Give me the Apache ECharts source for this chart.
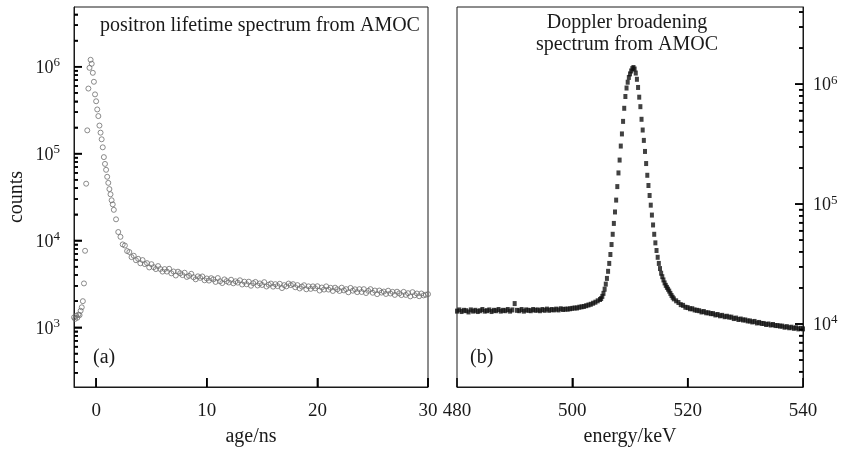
<!DOCTYPE html>
<html>
<head>
<meta charset="utf-8">
<script src="https://cdn.jsdelivr.net/npm/echarts@6/dist/echarts.min.js"></script>
<style>
  html, body { margin: 0; padding: 0; background: #fff; }
  #main { width: 841px; height: 452px; }
</style>
</head>
<body>
<div id="main"></div>
<script>
'use strict';

// (a) positron lifetime spectrum: [age/ns, counts]
var lifetimePeak = [
    [-2.0,1300],[-1.9,1250],[-1.8,1360],[-1.7,1290],[-1.6,1400],[-1.5,1380],[-1.4,1550],[-1.3,1700],
    [-1.2,2000],[-1.1,3200],[-1.0,7600],[-0.9,45000],[-0.8,185000],[-0.7,560000],[-0.6,970000],
    [-0.5,1200000],[-0.4,1080000],[-0.3,850000],[-0.2,670000],[-0.1,480000],[0.0,400000],[0.1,322000],
    [0.2,270000],[0.3,210000],[0.4,174000],[0.5,146000],[0.6,118000],[0.7,91000],[0.8,76000],
    [0.9,65000],[1.0,54000],[1.1,46000],[1.2,39000],[1.3,34000],[1.4,29000],[1.5,26000]
];
var lifetimeTail = [
    [1.6,22500],[1.8,17500],[2.0,12500],[2.2,11000],[2.4,9000],[2.6,8740],[2.8,7550],[3.0,7360],
    [3.2,6430],[3.4,6670],[3.6,5920],[3.8,6140],[4.0,5460],[4.2,5940],[4.4,5340],[4.6,5480],
    [4.8,4890],[5.0,5330],[5.2,4920],[5.4,4680],[5.6,5070],[5.8,4690],[6.0,4380],[6.2,4680],
    [6.4,4380],[6.6,4720],[6.8,4180],[7.0,4390],[7.2,3950],[7.4,4370],[7.6,4190],[7.8,3990],
    [8.0,4250],[8.2,3800],[8.4,3910],[8.6,4130],[8.8,3770],[9.0,3570],[9.2,3860],[9.4,3710],
    [9.6,3850],[9.8,3480],[10.0,3650],[10.2,3450],[10.4,3680],[10.6,3560],[10.8,3330],[11.0,3690],
    [11.2,3390],[11.4,3230],[11.6,3560],[11.8,3400],[12.0,3280],[12.2,3530],[12.4,3210],[12.6,3390],
    [12.8,3270],[13.0,3480],[13.2,3110],[13.4,3350],[13.6,3130],[13.8,3350],[14.0,3010],[14.2,3220],
    [14.4,3330],[14.6,3030],[14.8,3200],[15.0,3070],[15.2,3310],[15.4,2950],[15.6,3090],[15.8,3190],
    [16.0,2940],[16.2,3140],[16.4,2980],[16.6,3170],[16.8,2830],[17.0,3060],[17.2,2960],[17.4,3190],
    [17.6,3060],[17.8,3140],[18.0,2890],[18.2,3060],[18.4,2800],[18.6,2940],[18.8,3050],[19.0,2740],
    [19.2,2960],[19.4,2770],[19.6,2960],[19.8,2810],[20.0,2970],[20.2,2650],[20.4,2870],[20.6,2720],
    [20.8,2960],[21.0,2720],[21.2,2850],[21.4,2620],[21.6,2860],[21.8,2740],[22.0,2620],[22.2,2860],
    [22.4,2660],[22.6,2750],[22.8,2530],[23.0,2840],[23.2,2640],[23.4,2740],[23.6,2540],[23.8,2750],
    [24.0,2550],[24.2,2750],[24.4,2480],[24.6,2630],[24.8,2750],[25.0,2500],[25.2,2650],[25.4,2410],
    [25.6,2650],[25.8,2510],[26.0,2580],[26.2,2420],[26.4,2640],[26.6,2450],[26.8,2560],[27.0,2360],
    [27.2,2570],[27.4,2460],[27.6,2350],[27.8,2560],[28.0,2360],[28.2,2470],[28.4,2270],[28.6,2540],
    [28.8,2340],[29.0,2450],[29.2,2280],[29.4,2450],[29.6,2330],[29.8,2370],[30.0,2410]
];

// (b) Doppler broadening spectrum: [energy/keV, counts]
var dopplerLeft = [
    [480.0,12800],[480.4,13100],[480.8,12700],[481.2,13000],[481.6,12900],[482.0,12600],[482.4,13100],
    [482.8,12800],[483.2,13000],[483.6,12700],[484.0,12900],[484.4,13200],[484.8,12800],[485.2,12900],
    [485.6,13100],[486.0,12700],[486.4,13000],[486.8,12900],[487.2,13200],[487.6,12800],[488.0,13000],
    [488.4,12900],[488.8,13200],[489.2,12800],[489.6,13100],[490.0,14800],[490.4,13000],[490.8,12900],
    [491.2,13200],[491.6,12800],[492.0,13100],[492.4,13000],[492.8,12900],[493.2,13200],[493.6,13000],
    [494.0,13100],[494.4,12900],[494.8,13200],[495.2,13000],[495.6,13300],[496.0,13000],[496.4,13200],
    [496.8,13100],[497.2,13300],[497.6,13100],[498.0,13400],[498.4,13200],[498.8,13300],[499.2,13300],
    [499.6,13400],[500.0,13500],[500.4,13600],[500.8,13600],[501.2,13800],[501.6,13900],[502.0,14000],
    [502.4,14200],[502.8,14400],[503.2,14600],[503.6,14900],[504.0,15200],[504.4,15600],[504.8,16000]
];
var dopplerPeak = [
    [505.0,16300],[505.2,17000],[505.4,18000],[505.6,19500],[505.8,21500],[506.0,24000],[506.2,27500],
    [506.4,32000],[506.6,38000],[506.8,46000],[507.0,56000],[507.2,69000],[507.4,86000],[507.6,108000],
    [507.8,140000],[508.0,182000],[508.2,233000],[508.4,305000],[508.6,385000],[508.8,490000],
    [509.0,630000],[509.2,790000],[509.4,930000],[509.6,1040000],[509.8,1140000],[510.0,1220000],
    [510.2,1290000],[510.4,1350000],[510.6,1380000],[510.8,1340000],[511.0,1240000],[511.2,1100000],
    [511.4,940000],[511.6,780000],[511.8,650000],[512.0,510000],[512.2,415000],[512.4,340000],
    [512.6,275000],[512.8,218000],[513.0,174000],[513.2,143000],[513.4,118000],[513.6,98000],
    [513.8,81000],[514.0,67000],[514.2,56000],[514.4,47500],[514.6,41000],[514.8,36000],[515.0,32000],
    [515.2,29000],[515.4,26500],[515.6,24800],[515.8,23300],[516.0,22000],[516.2,21000],[516.4,20200],
    [516.6,19500],[516.8,18800],[517.0,18000],[517.2,17300],[517.4,16700],[517.6,16200]
];
var dopplerRight = [
    [518.0,15600],[518.4,15100],[518.8,14500],[519.2,14300],[519.6,13800],[520.0,13700],[520.4,13400],
    [520.8,13400],[521.2,13100],[521.6,13000],[522.0,12900],[522.4,12600],[522.8,12700],[523.2,12400],
    [523.6,12400],[524.0,12200],[524.4,12200],[524.8,11900],[525.2,12000],[525.6,11700],[526.0,11800],
    [526.4,11500],[526.8,11600],[527.2,11400],[527.6,11400],[528.0,11100],[528.4,11200],[528.8,10900],
    [529.2,11000],[529.6,10800],[530.0,10800],[530.4,10600],[530.8,10600],[531.2,10400],[531.6,10500],
    [532.0,10200],[532.4,10300],[532.8,10100],[533.2,10100],[533.6,9900],[534.0,10000],[534.4,9800],
    [534.8,9900],[535.2,9700],[535.6,9700],[536.0,9600],[536.4,9600],[536.8,9400],[537.2,9500],
    [537.6,9300],[538.0,9400],[538.4,9200],[538.8,9300],[539.2,9100],[539.6,9200],[540.0,9100]
];

// tick values
var ageTicks = [0, 10, 20, 30];
var energyTicks = [500, 520];
var leftDecades = [1e3, 1e4, 1e5, 1e6];
var leftMinor = [300,400,500,600,700,800,900, 2e3,3e3,4e3,5e3,6e3,7e3,8e3,9e3,
                 2e4,3e4,4e4,5e4,6e4,7e4,8e4,9e4, 2e5,3e5,4e5,5e5,6e5,7e5,8e5,9e5, 2e6,3e6,4e6];
var rightDecades = [1e4, 1e5, 1e6];
var rightMinor = [4e3,5e3,6e3,7e3,8e3,9e3, 2e4,3e4,4e4,5e4,6e4,7e4,8e4,9e4,
                  2e5,3e5,4e5,5e5,6e5,7e5,8e5,9e5, 2e6,3e6,4e6];

var FONT = '"Liberation Serif", "DejaVu Serif", serif';
var INK = '#1a1a1a';
var LEFT_Y = [205.6, 4.864e6];
var RIGHT_Y = [2980, 4.41e6];

function powLabel(v) {
    var e = Math.round(Math.log10(v));
    return '{b|10}{s|' + e + '}';
}
var powRich = {
    b: { fontFamily: FONT, fontSize: 18, color: INK, lineHeight: 21, verticalAlign: 'bottom' },
    s: { fontFamily: FONT, fontSize: 13, color: INK, lineHeight: 13, verticalAlign: 'top' }
};

// major ticks come from the axes; minor ones from twin axes sharing the same scale
function logAxis(grid, pos, range, values, len, labels) {
    return {
        type: 'log', gridIndex: grid, position: pos, min: range[0], max: range[1],
        axisLine: { show: labels, onZero: false, lineStyle: { color: INK, width: 1 } },
        splitLine: { show: false },
        axisTick: { show: true, inside: true, length: len, customValues: values,
                    lineStyle: { color: '#000', width: 1.5 } },
        axisLabel: labels ? { show: true, customValues: values, formatter: powLabel, rich: powRich,
                              margin: pos === 'left' ? 14 : 10 } : { show: false }
    };
}

// inward tick marks drawn as a custom series: [x, y, dx, dy]
var leftTicks = leftDecades.map(function (v) { return [-2, v, 8, 0]; })
    .concat(leftMinor.map(function (v) { return [-2, v, 4, 0]; }))
    .concat(ageTicks.map(function (v) { return [v, LEFT_Y[0], 0, -9]; }));
var rightTicks = rightDecades.map(function (v) { return [540, v, -8, 0]; })
    .concat(rightMinor.map(function (v) { return [540, v, -4, 0]; }))
    .concat(energyTicks.map(function (v) { return [v, RIGHT_Y[0], 0, -9]; }));

function tickSeries(xi, yi, items) {
    return {
        type: 'custom', xAxisIndex: xi, yAxisIndex: yi, silent: true, clip: false, z: 10,
        data: items,
        renderItem: function (params, api) {
            var p = api.coord([api.value(0), api.value(1)]);
            var dx = api.value(2), dy = api.value(3);
            return {
                type: 'line',
                shape: { x1: p[0], y1: p[1], x2: p[0] + dx, y2: p[1] + dy },
                style: { stroke: '#000', lineWidth: 1.5 }
            };
        }
    };
}

var myChart = echarts.init(document.getElementById('main'));

var option = {
    animation: false,
    grid: [
        { left: 74, top: 7, width: 354, height: 382, show: true, borderColor: INK, borderWidth: 1 },
        { left: 457, top: 7, width: 346, height: 382, show: true, borderColor: INK, borderWidth: 1 }
    ],
    xAxis: [
        {
            type: 'value', gridIndex: 0, min: -2, max: 30,
            name: 'age/ns', nameLocation: 'middle', nameGap: 40,
            nameTextStyle: { fontFamily: FONT, fontSize: 20, color: INK },
            axisLine: { show: true, onZero: false, lineStyle: { color: INK } },
            splitLine: { show: false },
            axisTick: { show: true, inside: true, length: 9, customValues: ageTicks,
                        lineStyle: { color: '#000', width: 1.5 } },
            axisLabel: { customValues: ageTicks, fontFamily: FONT, fontSize: 19, color: INK, margin: 15 }
        },
        {
            type: 'value', gridIndex: 1, min: 480, max: 540, interval: 20,
            name: 'energy/keV', nameLocation: 'middle', nameGap: 40,
            nameTextStyle: { fontFamily: FONT, fontSize: 20, color: INK },
            axisLine: { show: true, onZero: false, lineStyle: { color: INK } },
            splitLine: { show: false },
            axisTick: { show: true, inside: true, length: 9, lineStyle: { color: '#000', width: 1.5 } },
            axisLabel: { fontFamily: FONT, fontSize: 19, color: INK, margin: 15 }
        }
    ],
    yAxis: [
        Object.assign(logAxis(0, 'left', LEFT_Y, leftDecades, 8, true), {
            name: 'counts', nameLocation: 'middle', nameGap: 47, nameRotate: 90,
            nameTextStyle: { fontFamily: FONT, fontSize: 20, color: INK }
        }),
        logAxis(1, 'right', RIGHT_Y, rightDecades, 8, true),
        logAxis(0, 'left', LEFT_Y, leftMinor, 4, false),
        logAxis(1, 'right', RIGHT_Y, rightMinor, 4, false)
    ],
    graphic: [
        { type: 'text', x: 100, y: 26, silent: true,
          style: { text: 'positron lifetime spectrum from AMOC', fontFamily: FONT, fontSize: 20,
                   fill: INK, align: 'left', verticalAlign: 'middle' } },
        { type: 'text', x: 627, y: 34, silent: true,
          style: { text: 'Doppler broadening\nspectrum from AMOC', fontFamily: FONT, fontSize: 20,
                   lineHeight: 22, fill: INK, align: 'center', verticalAlign: 'middle' } },
        { type: 'text', x: 93, y: 358, silent: true,
          style: { text: '(a)', fontFamily: FONT, fontSize: 20, fill: INK, align: 'left', verticalAlign: 'middle' } },
        { type: 'text', x: 470, y: 358, silent: true,
          style: { text: '(b)', fontFamily: FONT, fontSize: 20, fill: INK, align: 'left', verticalAlign: 'middle' } }
    ],
    series: [
        {
            type: 'scatter', xAxisIndex: 0, yAxisIndex: 0,
            data: lifetimePeak.concat(lifetimeTail),
            symbol: 'circle', symbolSize: 5,
            itemStyle: { color: 'rgba(0,0,0,0)', borderColor: '#6e6e6e', borderWidth: 1 }
        },
        {
            type: 'scatter', xAxisIndex: 1, yAxisIndex: 1,
            data: dopplerLeft.concat(dopplerPeak, dopplerRight),
            symbol: 'rect', symbolSize: [4, 5],
            itemStyle: { color: '#111' }
        },
        tickSeries(0, 0, leftTicks),
        tickSeries(1, 1, rightTicks)
    ]
};

myChart.setOption(option);
</script>
</body>
</html>
